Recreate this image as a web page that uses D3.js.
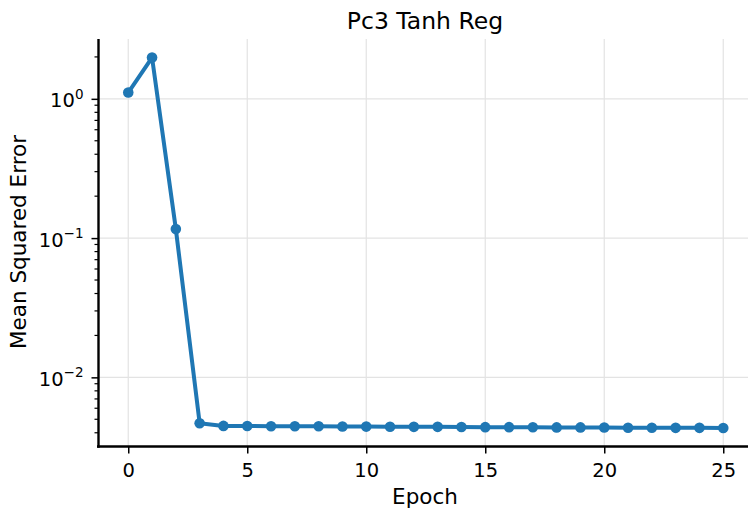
<!DOCTYPE html>
<html><head><meta charset="utf-8">
<script src="https://cdn.jsdelivr.net/npm/d3@7"></script>
<style>
html,body{margin:0;padding:0;background:#fff;}
text{font-family:"DejaVu Sans",sans-serif;fill:#000;}
</style></head>
<body>
<svg id="chart" width="748" height="510"></svg>
<script>
const epochs = [0,1,2,3,4,5,6,7,8,9,10,11,12,13,14,15,16,17,18,19,20,21,22,23,24,25];
const mse = [1.11,1.98,0.116,0.00468,0.00448,0.00447,0.00446,0.00445,0.00445,0.00444,0.00443,0.00442,0.00441,0.00441,0.00440,0.00439,0.00439,0.00438,0.00437,0.00437,0.00436,0.00435,0.00435,0.00434,0.00434,0.00433];
const xTicks = [0,5,10,15,20,25];
const yTicks = [1e-2,1e-1,1e0];
const yTickExp = ["\u22122","\u22121","0"];
const title = "Pc3 Tanh Reg";
const xLabel = "Epoch";
const yLabel = "Mean Squared Error";

const svg = d3.select("#chart");
const L = 98.5, R = 753, T = 39, B = 446.5;
const x = d3.scaleLinear().domain([-1.25, 26.25]).range([L, R]);
const lmin = Math.log10(d3.min(mse)), lmax = Math.log10(d3.max(mse));
const pad = (lmax - lmin) * 0.05;
const y = d3.scaleLog().domain([Math.pow(10, lmin - pad), Math.pow(10, lmax + pad)]).range([B, T]);

// grid
const g = svg.append("g");
g.selectAll(".gx").data(xTicks).join("line")
  .attr("x1", d => x(d)).attr("x2", d => x(d)).attr("y1", T).attr("y2", B)
  .attr("stroke", "#e3e3e3").attr("stroke-width", 1.2);
g.selectAll(".gy").data(yTicks).join("line")
  .attr("x1", L).attr("x2", R).attr("y1", d => y(d)).attr("y2", d => y(d))
  .attr("stroke", "#e3e3e3").attr("stroke-width", 1.2);

// line + markers
const line = d3.line().x((d, i) => x(epochs[i])).y(d => y(d));
svg.append("path").datum(mse).attr("d", line)
  .attr("fill", "none").attr("stroke", "#1f77b4").attr("stroke-width", 4)
  .attr("stroke-linejoin", "round");
svg.selectAll(".pt").data(mse).join("circle")
  .attr("cx", (d, i) => x(epochs[i])).attr("cy", d => y(d)).attr("r", 5.3)
  .attr("fill", "#1f77b4");

// x axis
const xAxis = svg.append("g").attr("transform", `translate(0,${B})`)
  .call(d3.axisBottom(x).tickValues(xTicks).tickSize(7).tickPadding(0).tickFormat(d3.format("d")));
xAxis.select(".domain").remove();
xAxis.selectAll(".tick line").attr("stroke", "#000").attr("stroke-width", 1.5);
xAxis.selectAll(".tick text").attr("font-size", 19.5).attr("font-family", "DejaVu Sans")
  .attr("dy", null).attr("y", 30.2);
svg.append("line").attr("x1", L - 1.5).attr("x2", R).attr("y1", B).attr("y2", B)
  .attr("stroke", "#000").attr("stroke-width", 2.6);

// y axis
const yMinor = [];
for (let e = -3; e <= 0; e++) for (let m = 2; m <= 9; m++) {
  const v = m * Math.pow(10, e);
  if (v >= y.domain()[0] && v <= y.domain()[1]) yMinor.push(v);
}
const yAxisG = svg.append("g").attr("transform", `translate(${L},0)`);
yAxisG.call(d3.axisLeft(y).tickValues(yTicks).tickSize(7).tickFormat(""));
yAxisG.select(".domain").remove();
yAxisG.selectAll(".tick line").attr("stroke", "#000").attr("stroke-width", 1.5);
yAxisG.selectAll(".minor").data(yMinor).join("line").attr("class", "minor")
  .attr("x1", 0).attr("x2", -4).attr("y1", d => y(d)).attr("y2", d => y(d))
  .attr("stroke", "#000").attr("stroke-width", 1.2);
const yl = yAxisG.selectAll(".ylab").data(yTicks).join("text").attr("class", "ylab")
  .attr("x", -15).attr("y", d => y(d) + 8.5).attr("text-anchor", "end").attr("font-size", 19.5);
yl.append("tspan").text("10");
yl.append("tspan").attr("dy", -8.5).attr("font-size", 13.5).text((d, i) => yTickExp[i]);
svg.append("line").attr("x1", L).attr("x2", L).attr("y1", T).attr("y2", B + 1.3)
  .attr("stroke", "#000").attr("stroke-width", 2.4);

// labels
svg.append("text").attr("x", 425).attr("y", 29).attr("text-anchor", "middle")
  .attr("font-size", 23.5).text(title);
svg.append("text").attr("x", 425).attr("y", 503.5).attr("text-anchor", "middle")
  .attr("font-size", 21.5).text(xLabel);
svg.append("text").attr("transform", `translate(26,242) rotate(-90)`).attr("text-anchor", "middle")
  .attr("font-size", 21.5).text(yLabel);
</script>
</body></html>
